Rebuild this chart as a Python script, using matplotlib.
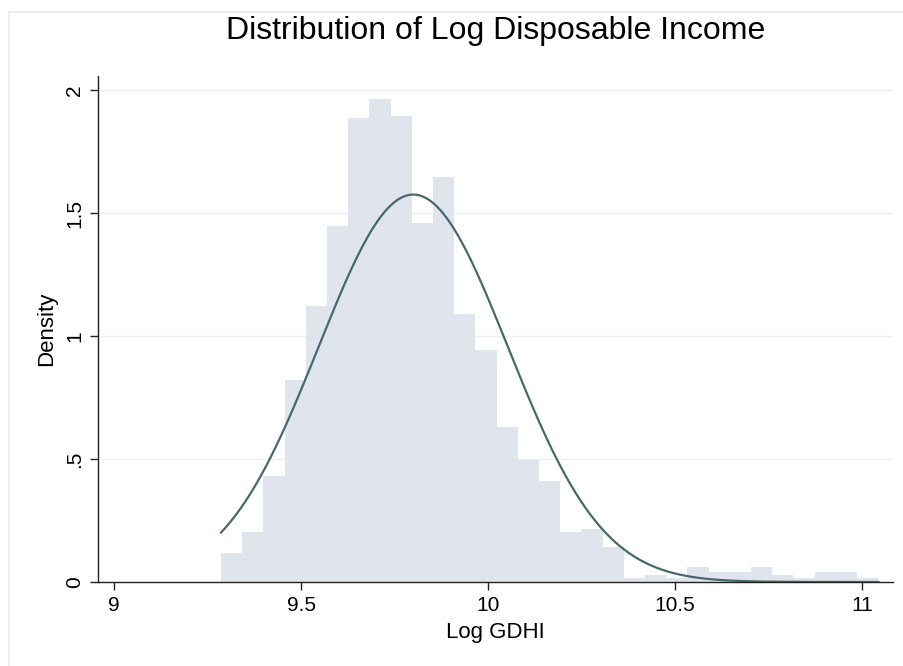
import numpy as np
import matplotlib
matplotlib.use("Agg")
import matplotlib.pyplot as plt
from matplotlib.patches import Rectangle

plt.rcParams['font.family'] = ['Liberation Sans', 'DejaVu Sans']

# Data
bin_start = 9.286
bin_width = 0.0567
densities = [0.117, 0.205, 0.432, 0.822, 1.123, 1.447, 1.885, 1.962, 1.895, 1.461,
             1.648, 1.090, 0.944, 0.631, 0.497, 0.409, 0.205, 0.217, 0.143, 0.015,
             0.028, 0.015, 0.061, 0.041, 0.041, 0.061, 0.028, 0.015, 0.041, 0.041,
             0.015]
normal_mean = 9.80
normal_sd = 0.2533
x_ticks = [9, 9.5, 10, 10.5, 11]
x_tick_labels = ["9", "9.5", "10", "10.5", "11"]
y_ticks = [0, 0.5, 1, 1.5, 2]
y_tick_labels = ["0", ".5", "1", "1.5", "2"]

W, H = 904, 666
fig = plt.figure(figsize=(W / 100, H / 100), dpi=100)
fig.patch.set_facecolor('white')

# outer frame
fig.patches.append(Rectangle((9 / W, -0.05), 1.1, 1 - 12 / H + 0.05, transform=fig.transFigure,
                             fill=False, edgecolor='#e6eaea', lw=1.2))

ax = fig.add_axes([98 / W, (H - 582) / H, (893 - 98) / W, (582 - 76) / H])
ax.set_facecolor('white')

edges = bin_start + bin_width * np.arange(len(densities))
ax.bar(edges, densities, width=bin_width, align='edge', color='#dfe4ed', edgecolor='none', zorder=2)

x_end = bin_start + bin_width * len(densities)
xs = np.linspace(bin_start, x_end, 400)
pdf = np.exp(-0.5 * ((xs - normal_mean) / normal_sd) ** 2) / (normal_sd * np.sqrt(2 * np.pi))
ax.plot(xs, pdf, color='#48696a', lw=1.6, zorder=3)

ax.set_xlim(8.957, 11.083)
ax.set_ylim(0, 2.057)
ax.set_xticks(x_ticks)
ax.set_xticklabels(x_tick_labels)
ax.set_yticks(y_ticks)
ax.set_yticklabels(y_tick_labels, rotation=90, va='center')

for y in y_ticks[1:]:
    ax.axhline(y, color='#eeeeee', lw=1.0, zorder=1)

for s in ['top', 'right']:
    ax.spines[s].set_visible(False)
for s in ['left', 'bottom']:
    ax.spines[s].set_color('#222222')
    ax.spines[s].set_linewidth(1.0)
ax.spines['bottom'].set_zorder(4)

ax.tick_params(axis='both', direction='out', length=6, width=1.0, color='#222222',
               labelsize=15, labelcolor='black', pad=4)

ax.set_xlabel('Log GDHI', fontsize=16, labelpad=5)
ax.set_ylabel('Density', fontsize=16, labelpad=6)
fig.text((98 + 893) / 2 / W, 1 - 31 / H, 'Distribution of Log Disposable Income',
         ha='center', va='center', fontsize=23)

fig.savefig('out.png', dpi=100)
